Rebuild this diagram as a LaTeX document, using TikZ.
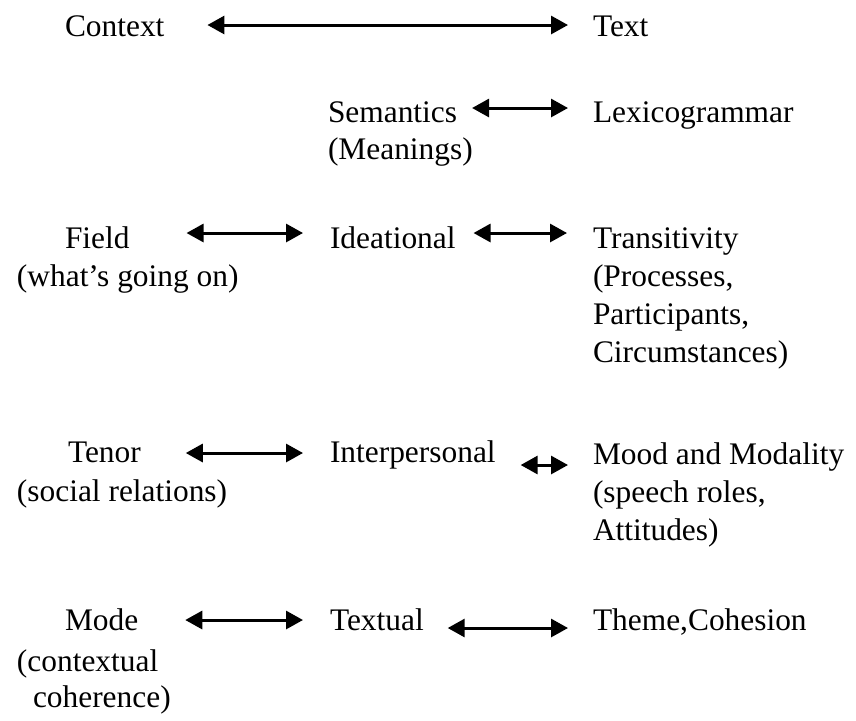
\documentclass[tikz,border=0pt]{standalone}
\usepackage{fontspec}
\setmainfont{Liberation Serif}
\usetikzlibrary{arrows.meta}
\begin{document}
\begin{tikzpicture}[
  x=0.5pt, y=-0.5pt,
  lbl/.style={anchor=base west, inner sep=0pt, outer sep=0pt,
              font=\fontsize{15.7}{18}\selectfont},
  biarrow/.style={line width=1.5pt,
                  {Triangle[length=8.5pt,width=9pt]}-{Triangle[length=8.5pt,width=9pt]}}
]
\useasboundingbox (0,0) rectangle (856,720);

% header row
\node[lbl] (context) at (65,36) {Context};
\node[lbl] (text)    at (593,36) {Text};

% semantics / lexicogrammar
\node[lbl] (sem)     at (328,122) {Semantics};
\node[lbl] (semnote) at (328,159) {(Meanings)};
\node[lbl] (lex)     at (593,122) {Lexicogrammar};

% field row
\node[lbl] (field)     at (65,248) {Field};
\node[lbl] (fieldnote) at (17,286) {(what’s going on)};
\node[lbl] (ideat)     at (330,248) {Ideational};
\node[lbl] (trans)     at (593,248) {Transitivity};
\node[lbl] (trans2)    at (593,286) {(Processes,};
\node[lbl] (trans3)    at (593,324) {Participants,};
\node[lbl] (trans4)    at (593,362) {Circumstances)};

% tenor row
\node[lbl] (tenor)     at (68,462) {Tenor};
\node[lbl] (tenornote) at (17,501) {(social relations)};
\node[lbl] (inter)     at (330,462) {Interpersonal};
\node[lbl] (mood)      at (593,464) {Mood and Modality};
\node[lbl] (mood2)     at (593,502) {(speech roles,};
\node[lbl] (mood3)     at (593,540) {Attitudes)};

% mode row
\node[lbl] (mode)      at (65,630) {Mode};
\node[lbl] (modenote)  at (17,671) {(contextual};
\node[lbl] (modenote2) at (33,707) {coherence)};
\node[lbl] (textual)   at (330,630) {Textual};
\node[lbl] (theme)     at (593,630) {Theme,Cohesion};

% connectors
\draw[biarrow] ([shift={(43,-11)}]context.base east) -- ([shift={(-25,-11)}]text.base west);
\draw[biarrow] ([shift={(15,-14)}]sem.base east) -- ([shift={(-25,-14)}]lex.base west);
\draw[biarrow] ([shift={(57,-15)}]field.base east) -- ([shift={(-27,-15)}]ideat.base west);
\draw[biarrow] ([shift={(18,-15)}]ideat.base east) -- ([shift={(-26,-15)}]trans.base west);
\draw[biarrow] ([shift={(45,-9)}]tenor.base east) -- ([shift={(-27,-9)}]inter.base west);
\draw[biarrow] ([shift={(25,3)}]inter.base east) -- ([shift={(-25,1)}]mood.base west);
\draw[biarrow] ([shift={(47,-10)}]mode.base east) -- ([shift={(-27,-10)}]textual.base west);
\draw[biarrow] ([shift={(24,-2)}]textual.base east) -- ([shift={(-25,-2)}]theme.base west);
\end{tikzpicture}
\end{document}
